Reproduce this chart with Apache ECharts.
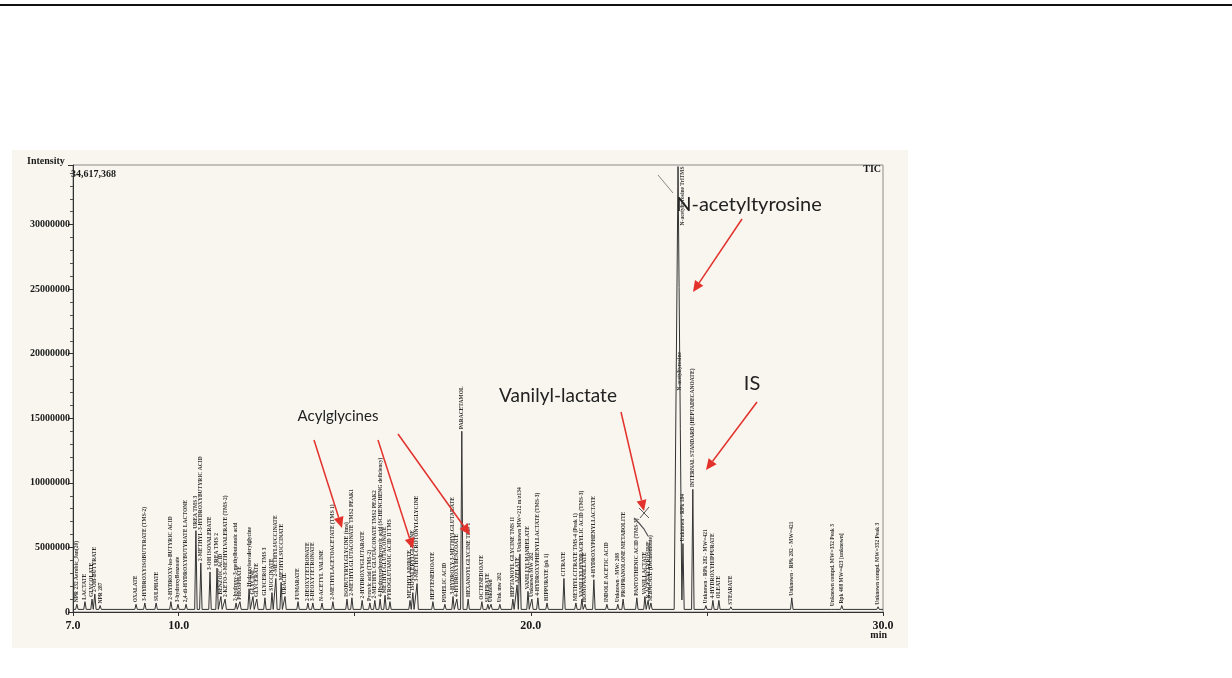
<!DOCTYPE html>
<html>
<head>
<meta charset="utf-8">
<title>TIC chromatogram</title>
<script src="https://cdn.jsdelivr.net/npm/echarts@6/dist/echarts.min.js"></script>
<style>
html, body { margin: 0; padding: 0; background: #fff; }
#chart { width: 1232px; height: 678px; }
</style>
</head>
<body>
<div id="chart"></div>
<script>
// retention time (min) of each labelled peak
var retentionTimes = [
  7.11, 7.34, 7.54, 7.62, 7.77, 8.79, 9.04, 9.36, 9.78, 9.98,
  10.21, 10.49, 10.63, 10.89, 11.09, 11.20, 11.32, 11.63, 11.74, 12.00,
  12.11, 12.22, 12.45, 12.65, 12.76, 12.91, 13.02, 13.39, 13.67, 13.81,
  14.07, 14.38, 14.78, 14.92, 15.21, 15.43, 15.57, 15.72, 15.86, 16.00,
  16.57, 16.65, 16.77, 17.22, 17.56, 17.79, 17.90, 18.04, 18.22, 18.61,
  18.78, 18.87, 19.12, 19.49, 19.61, 19.69, 19.92, 20.03, 20.20, 20.46,
  20.94, 21.28, 21.45, 21.54, 21.79, 22.16, 22.47, 22.62, 23.01, 23.24,
  23.33, 23.41, 24.18, 24.21, 24.32, 24.60, 24.97, 25.17, 25.34, 25.68,
  27.41, 28.58, 28.83, 29.86
];
// peak top intensity (counts)
var intensities = [
  600000, 800000, 1000000, 1400000, 500000, 600000, 700000, 700000, 800000, 600000,
  600000, 6300000, 3800000, 3100000, 3400000, 1200000, 1000000, 700000, 800000, 1800000,
  1200000, 1000000, 1100000, 1500000, 2600000, 2300000, 1200000, 800000, 700000, 700000,
  700000, 800000, 1000000, 1100000, 900000, 700000, 900000, 1000000, 1300000, 800000,
  900000, 1500000, 2200000, 800000, 600000, 1200000, 1000000, 14000000, 1000000, 800000,
  600000, 600000, 600000, 1000000, 2100000, 4500000, 1600000, 1000000, 1100000, 700000,
  2600000, 700000, 1000000, 600000, 2500000, 600000, 600000, 1000000, 1100000, 1200000,
  900000, 700000, 34500000, 17000000, 5300000, 9500000, 500000, 900000, 900000, 400000,
  1100000, 300000, 500000, 400000
];
var peakNames = [
  'NPR 232 Aerobic_Jan(20)', 'LACTATE', 'GLYCOLATE', '2-OH-BUTYRATE', 'NPR 287',
  'OXALATE', '3-HYDROXYISOBUTYRATE (TMS-2)', 'SULPHATE', '2-HYDROXY-iso-BUTYRIC ACID', '3-hydroxyBenzoate',
  '2,4-di-HYDROXYBUTYRATE LACTONE', 'UREA TMS 3', '2-METHYL-3-HYDROXYBUTYRIC ACID', '3-OH ISOVALERATE', 'UREA TMS 2',
  'BENZOIC ACID', '2-KETO-3-METHYLVALERATE (TMS-2)', '2-hydroxy-3-methylbutanoic acid', 'PHOSPHATE', 'Hydroxyisovalerylglycine',
  'GLYCINE', 'GLYCERATE', 'GLYCEROL TMS 3', 'SUCCINATE', '2-METHYLSUCCINATE',
  'METHYLSUCCINATE', 'URACIL', 'FUMARATE', '2-DEOXYTETRONATE', '3-DEOXYTETRONATE',
  'N-ACETYL VALINE', '2-METHYLACETOACETATE (TMS 1)', 'ISOBUTYRYLGLYCINE (tms)', '2-METHYLGLUTACONATE TMS2 PEAK1', '2-HYDROXYGLUTARATE',
  'Pyruvic acid (TMS-2)', '2-METHYL GLUTACONATE TMS2 PEAK2', '4-Hydroxyphenylpyruvic acid (SCHENCHENG deficiency)', 'METHYLGLUTACONATE', 'PYROGLUTAMIC ACID II TMS',
  'METHYLADIPATE', 'ISOVALERYLGLYCINE', '3-METHYLCROTONYLGLYCINE', 'HEPTENEDIOATE', 'PIMELIC ACID',
  '3-HYDROXY-3-METHYLGLUTARATE', '4-HYDROXYBENZOATE', 'PARACETAMOL', 'HEXANOYLGLYCINE TMS 1', 'OCTENEDIOATE',
  'SUBERATE', 'Unknown', 'Unk mw 202', 'HEPTANOYL GLYCINE TMS II', 'AZELATE',
  'Unknown MW=212 m/z134', 'VANILLYLMANDELATE', 'Unknown MW 282', '4-HYDROXYPHENYLLACTATE (TMS-3)', 'HIPPURATE (pk 1)',
  'CITRATE', 'METHYLCITRATE TMS-4 (Peak 1)', 'VANILLYLHYDRACRYLIC ACID (TMS-3)', 'HOMOVANILLATE', '4-HYDROXYPHENYLLACTATE',
  'INDOLE ACETIC ACID', 'Unknown - MW: 208', 'PROPRANOLONE METABOLITE', 'PANTOTHENIC ACID (TMS-3)', 'VANILLACTATE',
  'N-ACETYLTYROSINE', 'SEBACATE (Decanedioate)', 'N-acetyltyrosine TriTMS', 'N-acetyltyrosine', 'Unknown - RPk 184',
  'INTERNAL STANDARD (HEPTADECANOATE)', 'Unknown - RPk 282 - MW=421', '4-HYDROXYHIPPURATE', 'OLEATE', 'STEARATE',
  'Unknown - RPk 282 - MW=421', 'Unknown compd. MW=352 Peak 3', 'Rpk 408 MW=423 [unknown]', 'Unknown compd. MW=352 Peak 3'
];
var xLabelValues = [7, 10, 20, 30];
var xTickValues = [7, 10, 15, 20, 25, 30];
var yMax = 34617368;
var baseline = 200000;

var RED = '#e3312b';
var SERIF = 'Liberation Serif';

function halfWidth(i) {
  // saturated peak is wider at the base
  return intensities[i] > 30000000 ? 0.11 : 0.035;
}

// chromatogram trace: upper envelope of the peaks over the baseline
function buildTrace() {
  var xs = [7, 30];
  retentionTimes.forEach(function (t, i) {
    var w = halfWidth(i);
    xs.push(t - w, t, t + w);
  });
  xs.sort(function (a, b) { return a - b; });
  return xs.map(function (x) {
    var y = baseline;
    retentionTimes.forEach(function (t, i) {
      var w = halfWidth(i);
      var d = Math.abs(x - t);
      if (d < w) {
        y = Math.max(y, baseline + (intensities[i] - baseline) * (1 - d / w));
      }
    });
    return [x, y];
  });
}

function arrow(x1, y1, x2, y2) {
  var ang = Math.atan2(y2 - y1, x2 - x1);
  var len = 11, half = 5;
  var bx = x2 - len * Math.cos(ang), by = y2 - len * Math.sin(ang);
  var px = -Math.sin(ang) * half, py = Math.cos(ang) * half;
  return [
    { type: 'line', z: 50, shape: { x1: x1, y1: y1, x2: bx, y2: by }, style: { stroke: RED, lineWidth: 1.5 } },
    { type: 'polygon', z: 50, shape: { points: [[x2, y2], [bx + px, by + py], [bx - px, by - py]] }, style: { fill: RED } }
  ];
}

function note(text, x, y, size) {
  return {
    type: 'text', z: 50, x: x, y: y,
    style: { text: text, fill: '#222', font: size + 'px Lato', textAlign: 'center', textVerticalAlign: 'middle' }
  };
}

function plain(text, x, y, align) {
  return {
    type: 'text', z: 40, x: x, y: y,
    style: { text: text, fill: '#1a1a1a', font: 'bold 10px "' + SERIF + '"', textAlign: align || 'left', textVerticalAlign: 'middle' }
  };
}

var labelData = retentionTimes.map(function (t, i) {
  var item = { value: [t, intensities[i]], name: peakNames[i] };
  if (intensities[i] > 30000000) {
    item.label = { position: 'right', align: 'right', distance: 5 };
  }
  return item;
});

var graphics = [
  { type: 'rect', z: -10, shape: { x: 12, y: 150, width: 896, height: 498 }, style: { fill: '#f8f6ef' } },
  { type: 'line', shape: { x1: 0, y1: 5, x2: 1232, y2: 5 }, style: { stroke: '#111', lineWidth: 2 } },
  { type: 'line', shape: { x1: 658, y1: 175, x2: 673, y2: 193 }, style: { stroke: '#888', lineWidth: 1 } },
  { type: 'polyline', z: 45, shape: { points: [[634, 518], [639, 523], [644, 529], [648, 536]] }, style: { stroke: '#555', lineWidth: 1.2, fill: null } },
  { type: 'line', z: 45, shape: { x1: 639, y1: 508, x2: 649, y2: 518 }, style: { stroke: '#555', lineWidth: 1 } },
  { type: 'line', z: 45, shape: { x1: 649, y1: 507, x2: 640, y2: 518 }, style: { stroke: '#555', lineWidth: 1 } },
  plain('Intensity', 27, 161),
  plain('34,617,368', 71, 174),
  plain('TIC', 881, 169, 'right'),
  plain('min', 887, 635, 'right'),
  note('N-acetyltyrosine', 749, 205, 20),
  note('IS', 752, 384, 20),
  note('Vanilyl-lactate', 558, 396, 19),
  note('Acylglycines', 338, 416, 15)
].concat(
  arrow(742, 219, 693, 292),
  arrow(757, 402, 706, 470),
  arrow(621, 412, 644, 511),
  arrow(314, 440, 342, 528),
  arrow(378, 440, 413, 549),
  arrow(398, 434, 470, 535)
);

var chart = echarts.init(document.getElementById('chart'));
var option = {
  backgroundColor: '#ffffff',
  animation: false,
  grid: {
    left: 73, right: 349, top: 165, bottom: 66,
    show: true, borderColor: '#8a8a8a', borderWidth: 1
  },
  xAxis: {
    type: 'value',
    min: 7,
    max: 30,
    axisLine: { lineStyle: { color: '#333', width: 1 } },
    axisTick: { customValues: xTickValues, length: 4, lineStyle: { color: '#333' } },
    axisLabel: {
      customValues: xLabelValues,
      formatter: function (v) { return v.toFixed(1); },
      fontFamily: SERIF, fontWeight: 'bold', fontSize: 12, color: '#1a1a1a', margin: 8
    },
    splitLine: { show: false }
  },
  yAxis: {
    type: 'value',
    min: 0,
    max: yMax,
    interval: 5000000,
    axisLine: { show: true, lineStyle: { color: '#333', width: 1 } },
    axisTick: { show: true, length: 5, lineStyle: { color: '#333' } },
    minorTick: { show: true, splitNumber: 5, length: 3, lineStyle: { color: '#555' } },
    axisLabel: {
      showMaxLabel: false,
      formatter: function (v) { return String(v); },
      fontFamily: SERIF, fontWeight: 'bold', fontSize: 10, color: '#1a1a1a', margin: 3
    },
    splitLine: { show: false }
  },
  series: [
    {
      type: 'line',
      data: buildTrace(),
      symbol: 'none',
      silent: true,
      lineStyle: { color: '#333333', width: 1 }
    },
    {
      type: 'scatter',
      data: labelData,
      symbolSize: 0,
      silent: true,
      label: {
        show: true,
        position: 'top',
        distance: 2,
        rotate: 90,
        align: 'left',
        verticalAlign: 'middle',
        formatter: '{b}',
        fontFamily: SERIF,
        fontWeight: 'bold',
        fontSize: 5.5,
        color: '#000'
      }
    }
  ],
  graphic: graphics
};
chart.setOption(option);
window.addEventListener('resize', function () { chart.resize(); });
</script>
</body>
</html>
